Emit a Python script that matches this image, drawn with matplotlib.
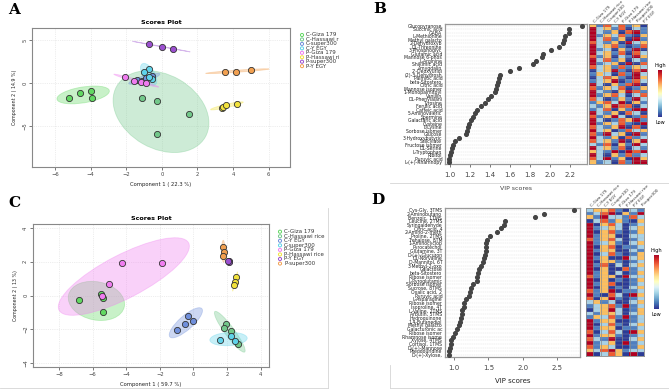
import numpy as np
import matplotlib
matplotlib.use("Agg")
import matplotlib.pyplot as plt
from matplotlib.patches import Ellipse
from matplotlib.colors import ListedColormap
from matplotlib.lines import Line2D

W, H = 669, 390

# ---------------- data: panel A (PCA scores) ----------------
A_groups = ["C-Giza 179", "C-Hassawi rice", "C-super300", "C-Y EGY",
            "P-Giza 179", "P-Hassawi rice", "P-super300", "P-Y EGY"]
A_pc1 = [[-5.2, -4.6, -4.0, -3.9],
         [-1.1, -0.3, 1.5, -0.3],
         [-1.4, -1.1, -0.9, -0.55],
         [-0.72, -1.0, -0.55, -0.7],
         [-2.1, -1.55, -1.2, -0.9],
         [3.37, 3.45, 3.6, 4.2],
         [-0.72, 0.03, 0.6],
         [3.55, 4.17, 5.0]]
A_pc2 = [[-1.8, -1.2, -0.9, -1.7],
         [-1.7, -2.1, -3.6, -6.0],
         [0.35, 0.2, 0.6, 0.8],
         [1.6, 1.25, 0.45, 0.7],
         [0.7, 0.25, 0.1, 0.0],
         [-2.9, -2.75, -2.6, -2.45],
         [4.5, 4.2, 4.0],
         [1.3, 1.3, 1.5]]

# ---------------- data: panel C (PCA scores) ----------------
C_groups = ["C-Giza 179", "C-Hassawi rice", "C-Y EGY", "C-super300",
            "P-Giza 179", "P-Hassawi rice", "P-Y EGY", "P-super300"]
C_pc1 = [[-6.8, -5.5, -5.4, -5.4],
         [1.94, 1.82, 2.24, 2.66],
         [-0.98, -0.5, -0.3, -0.02],
         [1.58, 2.24, 2.45],
         [-4.25, -1.87, -5.0, -5.45],
         [2.54, 2.48, 2.42],
         [2.1, 2.12, 2.05],
         [1.76, 1.83, 1.76]]
C_pc2 = [[-0.24, 0.1, -0.15, -1.0],
         [-1.7, -1.95, -2.1, -2.85],
         [-2.07, -1.7, -1.2, -1.5],
         [-2.65, -2.4, -2.7],
         [1.9, 1.9, 0.7, 0.0],
         [1.07, 0.82, 0.6],
         [2.07, 2.0, 2.02],
         [2.9, 2.6, 2.37]]

group_colors = ["#62d862", "#72c88a", "#6f8fdc", "#5fd3ea",
                "#f07cf0", "#f2e23c", "#9b4fd0", "#f2a050"]

# ---------------- data: panel B (VIP) ----------------
B_names = ["Glucopyranose", "Succinic acid", "GABA", "L-Methionine", "Methyl galacto",
           "2-Dehydroxyb", "DL-Threonine", "3-Phosphoglyc", "Glutamic acid", "Mannose 6-phos",
           "L-Arginine", "Shikimic acid", "Amygdalin", "2'-Deoxyuridi", "(2)-3-Dehydrosh",
           "Palmitic acid", "beta-Sitostero", "Citric acid", "Mannose isomer", "1-Monopalmitoyl",
           "Vanillin", "DL-Phenylalani", "Tyrosine", "Ferulic acid", "Caffeic acid",
           "5-Aminovaleric", "Spermine", "Galactaric acid", "Cysteine", "L-Lysine",
           "Sorbose isomer", "Glucose", "3-Hydroxybutyric", "Salicylate", "Fructose isomer",
           "DL-Serine", "L-Tryptophan", "Ribitol", "Pyruvic acid", "L-(+)-Rhamnopy"]
B_vip = [2.32, 2.19, 2.19, 2.15, 2.14, 2.13, 2.09, 2.01, 1.93, 1.92,
         1.86, 1.83, 1.69, 1.60, 1.50, 1.49, 1.48, 1.47, 1.46, 1.45,
         1.41, 1.38, 1.35, 1.31, 1.27, 1.25, 1.23, 1.21, 1.19, 1.18,
         1.17, 1.16, 1.09, 1.05, 1.03, 1.02, 1.01, 1.00, 0.99, 0.99]
B_cols = ["C-Giza 179", "C-Hassawi rice", "C-super300", "C-Y EGY",
          "P-Giza 179", "P-Hassawi rice", "P-super300", "P-Y EGY"]
B_heat = ["31424130", "52314021", "52130451", "51324103", "52413051",
          "42130523", "52341014", "51203150", "52314042", "41302153",
          "52413021", "51230504", "42314132", "02351045", "13204152",
          "02431053", "12350142", "52031450", "41324013", "52103541",
          "51342024", "42013152", "13425031", "21354402", "12403155",
          "52130420", "41352014", "52014351", "51324105", "42135040",
          "52301423", "41523051", "52130412", "42315035", "21403152",
          "52314021", "32150545", "52031412", "42513053", "31204155"]

# ---------------- data: panel D (VIP) ----------------
D_names = ["Cys-Gly, 3TMS", "2-Aminobutano", "Benzoic, 1TMS", "Leucine, 2TMS", "Syringaldehyde",
           "Citric acid, 4", "2-Amino-2-meth", "Proline, 2TMS", "Trehalose, 8TM", "1-Aminocyclop",
           "Pyrocatechol", "Glutamine, 3T", "D-(+)-Glucuron", "DL-Norvaline", "D-Mannitol, 6T",
           "3-Methyl-2-oxo", "Galactose", "beta-Sitostero", "Ribose isomer", "L-Pyroglutamic",
           "Sorbose isomer", "Sucrose, 8TMS", "Oxalic acid, 2", "Pyruvic acid", "L-Asparagine",
           "Ribose isomer", "Isoproline, 4T", "L-Valine, 2TMS", "Arbutin, 5TMS", "Hydroquinone",
           "1,4-Butanediol", "Methyl galacto", "Galacturonic ac", "Ribose isomer", "Rhamnose isome",
           "Xylose, 4TMS", "Cortisol, 1TMS", "D-(+)-Mannose", "Pseudouridine", "D-(+)-Xylose,"]
D_vip = [2.75, 2.31, 2.17, 1.74, 1.72, 1.68, 1.62, 1.53, 1.48, 1.47,
         1.47, 1.46, 1.45, 1.44, 1.42, 1.39, 1.36, 1.35, 1.34, 1.34,
         1.27, 1.25, 1.23, 1.22, 1.18, 1.15, 1.14, 1.12, 1.11, 1.10,
         1.09, 1.08, 1.04, 1.02, 0.98, 0.96, 0.95, 0.94, 0.93, 0.93]
D_cols = ["C-Giza 179", "C-Hassawi rice", "C-Y EGY", "C-super300",
          "P-Giza 179", "P-Hassawi rice", "P-Y EGY", "P-super300"]
D_heat = ["23341021", "12450315", "31522142", "02413103", "50342012",
          "51232023", "50341013", "51330022", "41342012", "51231023",
          "50340112", "51330021", "50241013", "51300523", "50331012",
          "51402023", "50300412", "51302013", "41330522", "50301013",
          "51340012", "50301023", "41350112", "51042053", "40351012",
          "23120023", "12341512", "02352013", "21332023", "13241512",
          "51330012", "50241023", "51330112", "40242053", "51331012",
          "42150023", "51230512", "41320013", "32453122", "50243050"]

heat_colors = ["#2b3b95", "#4f7fc0", "#a9d2e6", "#fdbf5e", "#ee5a30", "#b00020"]


def rect(l, t, r, b):
    return [l / W, 1 - b / H, (r - l) / W, (b - t) / H]


def conf_ellipse(ax, x, y, color):
    cov = np.cov(x, y)
    vals, vecs = np.linalg.eigh(cov)
    vals = np.clip(vals, 1e-4, None)
    t = 2.4477
    ang = np.degrees(np.arctan2(vecs[1, 1], vecs[0, 1]))
    e = Ellipse((np.mean(x), np.mean(y)), 2 * t * np.sqrt(vals[1]), 2 * t * np.sqrt(vals[0]),
                angle=ang, facecolor=color, alpha=0.35, edgecolor=color, lw=0.6, zorder=1)
    ax.add_patch(e)


def scores_plot(ax, pc1, pc2, colors, xlim, ylim, xticks, yticks, xlab, ylab):
    for x, y, c in zip(pc1, pc2, colors):
        conf_ellipse(ax, x, y, c)
    for x, y, c in zip(pc1, pc2, colors):
        ax.scatter(x, y, s=20, facecolor=c, edgecolor="#333333", linewidth=0.6, zorder=3)
    ax.set_xlim(*xlim); ax.set_ylim(*ylim)
    ax.set_xticks(xticks); ax.set_yticks(yticks)
    ax.tick_params(labelsize=3.8, length=2, width=0.5, colors="#444", pad=1.5)
    for lab in ax.get_yticklabels():
        lab.set_rotation(90); lab.set_va("center")
    ax.grid(color="#dddddd", ls=":", lw=0.5)
    ax.set_axisbelow(True)
    for s in ax.spines.values():
        s.set_color("#888"); s.set_linewidth(0.8)
    ax.set_xlabel(xlab, fontsize=3.8, labelpad=4, color="#222")
    ax.set_ylabel(ylab, fontsize=3.4, labelpad=4, color="#222")
    ax.set_title("Scores Plot", fontsize=4.6, fontweight="bold", pad=3)


def legend_box(fig, box, names, colors, y0, dy, xm, xt):
    lax = fig.add_axes(rect(*box))
    lax.set_xlim(box[0], box[2]); lax.set_ylim(box[3], box[1])
    lax.axis("off")
    for i, (n, c) in enumerate(zip(names, colors)):
        yy = y0 + i * dy
        lax.scatter([xm], [yy], s=5, facecolor="none", edgecolor=c, linewidth=0.7, clip_on=True)
        lax.text(xt, yy, n, fontsize=4.0, va="center", ha="left", color="#333", clip_on=True)


def vip_plot(fig, r_vip, r_heat, names, vip, heat, cols, xlim, xticks):
    ax = fig.add_axes(rect(*r_vip))
    n = len(vip)
    ypos = np.arange(n)
    ax.scatter(vip, ypos, s=7, color="#444444", zorder=3)
    ax.set_ylim(n - 0.5, -0.5)
    ax.set_xlim(*xlim)
    ax.set_xticks(xticks)
    ax.set_xticklabels([f"{v:.1f}" for v in xticks])
    ax.set_yticks(ypos)
    ax.set_yticklabels(names, fontsize=3.3, color="#222")
    ax.tick_params(axis="y", length=0, pad=2)
    ax.tick_params(axis="x", labelsize=5, length=2, width=0.5, colors="#444")
    for yy in ypos:
        ax.axhline(yy, color="#dcdcdc", lw=0.3, ls="--", zorder=1)
    for s in ax.spines.values():
        s.set_color("#999"); s.set_linewidth(0.9)
    hax = fig.add_axes(rect(*r_heat))
    mat = np.array([[int(ch) for ch in row] for row in heat])
    hax.imshow(mat, cmap=ListedColormap(heat_colors), vmin=-0.5, vmax=5.5,
               aspect="auto", interpolation="nearest",
               extent=(0, len(cols), n, 0))
    for k in range(1, n):
        hax.axhline(k, color="#b5b5b5", lw=0.2)
    for k in range(1, len(cols)):
        hax.axvline(k, color="#8a8a8a", lw=0.5)
    hax.set_ylim(n, 0)
    hax.set_xlim(0, len(cols))
    hax.set_yticks([])
    hax.xaxis.tick_top()
    hax.set_xticks(np.arange(len(cols)) + 0.5)
    hax.set_xticklabels(cols, rotation=45, ha="left", fontsize=3.0, color="#333")
    hax.tick_params(axis="x", length=0, pad=0.5)
    for s in hax.spines.values():
        s.set_color("#888"); s.set_linewidth(0.6)
    return ax


def colorbar_box(fig, r):
    cax = fig.add_axes(rect(*r))
    grad = np.linspace(1, 0, 100).reshape(-1, 1)
    cax.imshow(grad, aspect="auto", cmap="RdYlBu_r")
    cax.set_xticks([]); cax.set_yticks([])
    for s in cax.spines.values():
        s.set_visible(False)
    l, t, rr, b = r
    fig.text((l + rr) / 2 / W, 1 - (t - 5) / H, "High", fontsize=3.6, ha="center", va="center")
    fig.text((l + rr) / 2 / W, 1 - (b + 6) / H, "Low", fontsize=3.6, ha="center", va="center")


fig = plt.figure(figsize=(W / 100, H / 100), dpi=100)

# panel A
axA = fig.add_axes(rect(32, 28, 290, 167))
scores_plot(axA, A_pc1, A_pc2, group_colors, (-7.3, 7.2), (-9.8, 6.4),
            [-6, -4, -2, 0, 2, 4, 6], [-5, 0, 5],
            "Component 1 ( 22.3 %)", "Component 2 ( 14.9 %)")
legend_box(fig, (296, 30, 339, 70), A_groups, group_colors, 35, 4.45, 302, 306)

# panel C
axC = fig.add_axes(rect(33, 224, 269, 367))
scores_plot(axC, C_pc1, C_pc2, group_colors, (-9.55, 4.5), (-4.24, 4.24),
            [-8, -6, -4, -2, 0, 2, 4], [-4, -2, 0, 2, 4],
            "Component 1 ( 59.7 %)", "Component 2 ( 13 %)")
legend_box(fig, (274, 228, 328, 268), C_groups, group_colors, 231.7, 4.55, 280, 284)

# panel B
axB = vip_plot(fig, (445, 24, 587, 164), (589, 24, 647, 164), B_names, B_vip, B_heat, B_cols,
               (0.95, 2.37), [1.0, 1.2, 1.4, 1.6, 1.8, 2.0, 2.2])
axB.set_xlabel("VIP scores", fontsize=4.5, labelpad=6, color="#444")
colorbar_box(fig, (658, 70, 662, 117))

# panel D
axD = vip_plot(fig, (445, 208, 580, 357), (586, 208, 644, 356), D_names, D_vip, D_heat, D_cols,
               (0.87, 2.83), [1.0, 1.5, 2.0, 2.5])
axD.set_xlabel("VIP scores", fontsize=5, labelpad=5, color="#222")
colorbar_box(fig, (654, 255, 659, 309))

# thin frame remnants of the pasted sub-figures
for (x0, y0, x1, y1) in [(328, 208, 328, 388), (0, 388, 328, 388),
                         (390, 183, 669, 183), (390, 365, 390, 388), (390, 388, 669, 388)]:
    fig.add_artist(Line2D([x0 / W, x1 / W], [1 - y0 / H, 1 - y1 / H], color="#d5d5d5", lw=0.6))

# panel letters
for lab, x, y in [("A", 14, 10), ("B", 380, 9), ("C", 14, 203), ("D", 378, 200)]:
    fig.text(x / W, 1 - y / H, lab, fontsize=11, fontweight="bold",
             family="DejaVu Serif", ha="center", va="center")

fig.savefig("out.png", dpi=100)
